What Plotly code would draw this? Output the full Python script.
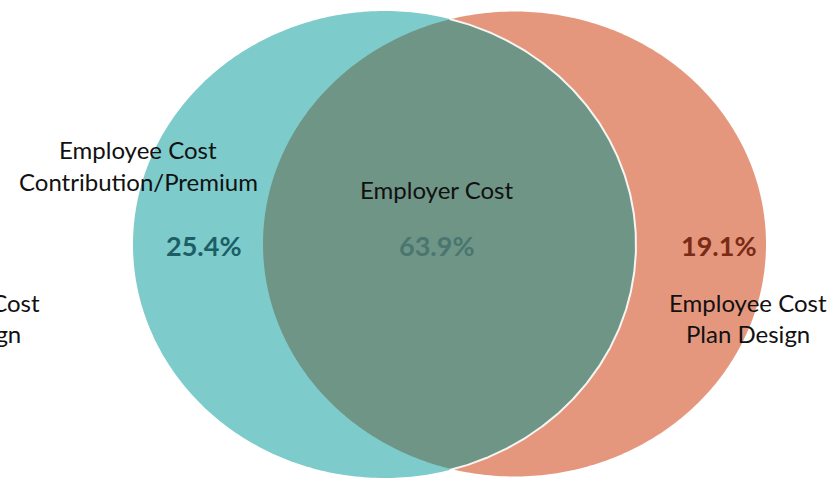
import numpy as np
import plotly.graph_objects as go

# ---- data ----
sets = ["Employee Cost Contribution/Premium", "Employer Cost", "Employee Cost Plan Design"]
shares = [25.4, 63.9, 19.1]
pct_labels = [f"{v:.1f}%" for v in shares]

W, H = 837, 481
# ellipse geometry (pixel coordinates)
teal_c, teal_r = (384.5, 244.5), (251.5, 233.5)
salm_c, salm_r = (514.5, 244.0), (251.5, 232.5)

TEAL = "#7ECBCB"
SALMON = "#E5977E"
OVER = "#6F9586"

def ellipse(c, r, t0=0, t1=2 * np.pi, n=400):
    t = np.linspace(t0, t1, n)
    return c[0] + r[0] * np.cos(t), c[1] + r[1] * np.sin(t)

fig = go.Figure()
x, y = ellipse(salm_c, salm_r)
fig.add_trace(go.Scatter(x=x, y=y, fill="toself", fillcolor=SALMON, mode="none", hoverinfo="skip"))
x, y = ellipse(teal_c, teal_r)
fig.add_trace(go.Scatter(x=x, y=y, fill="toself", fillcolor=TEAL, mode="none", hoverinfo="skip"))

# lens (overlap)
xm = (teal_c[0] + salm_c[0]) / 2
a_t = np.arccos((xm - teal_c[0]) / teal_r[0])
a_s = np.arccos((salm_c[0] - xm) / salm_r[0])
xt, yt = ellipse(teal_c, teal_r, -a_t, a_t)
xs, ys = ellipse(salm_c, salm_r, np.pi - a_s, np.pi + a_s)
fig.add_trace(go.Scatter(x=np.concatenate([xt, xs]), y=np.concatenate([yt, ys]),
                         fill="toself", fillcolor=OVER, mode="none", hoverinfo="skip"))
fig.add_trace(go.Scatter(x=xt, y=yt, mode="lines", line=dict(color="rgba(255,255,255,0.9)", width=2),
                         hoverinfo="skip"))

FONT = "Lato"
def txt(x, y, s, size=24, color="#111111", bold=False, xanchor="center"):
    fig.add_annotation(x=x, y=y, text=f"<b>{s}</b>" if bold else s, showarrow=False,
                       xanchor=xanchor, yanchor="middle",
                       font=dict(family=FONT, size=size, color=color))

# left set label
txt(138, 149, "Employee Cost")
txt(138, 181, "Contribution/Premium")
# center
txt(436, 189, "Employer Cost")
# right set label
txt(748, 302, "Employee Cost")
txt(748, 333, "Plan Design")
# cut-off duplicate at left edge (as in the reference image)
txt(42, 302, "Employee Cost", xanchor="right")
txt(23, 333, "Plan Design", xanchor="right")

txt(204, 245, pct_labels[0], size=27, color="#1B5E66", bold=True)
txt(437, 245, pct_labels[1], size=27, color="#4A766F", bold=True)
txt(719, 245, pct_labels[2], size=27, color="#7A2B16", bold=True)

fig.update_layout(
    width=W, height=H, margin=dict(l=0, r=0, t=0, b=0),
    paper_bgcolor="white", plot_bgcolor="white", showlegend=False,
    xaxis=dict(range=[0, W], visible=False, fixedrange=True),
    yaxis=dict(range=[H, 0], visible=False, fixedrange=True),
)
fig.write_html("out.html")
